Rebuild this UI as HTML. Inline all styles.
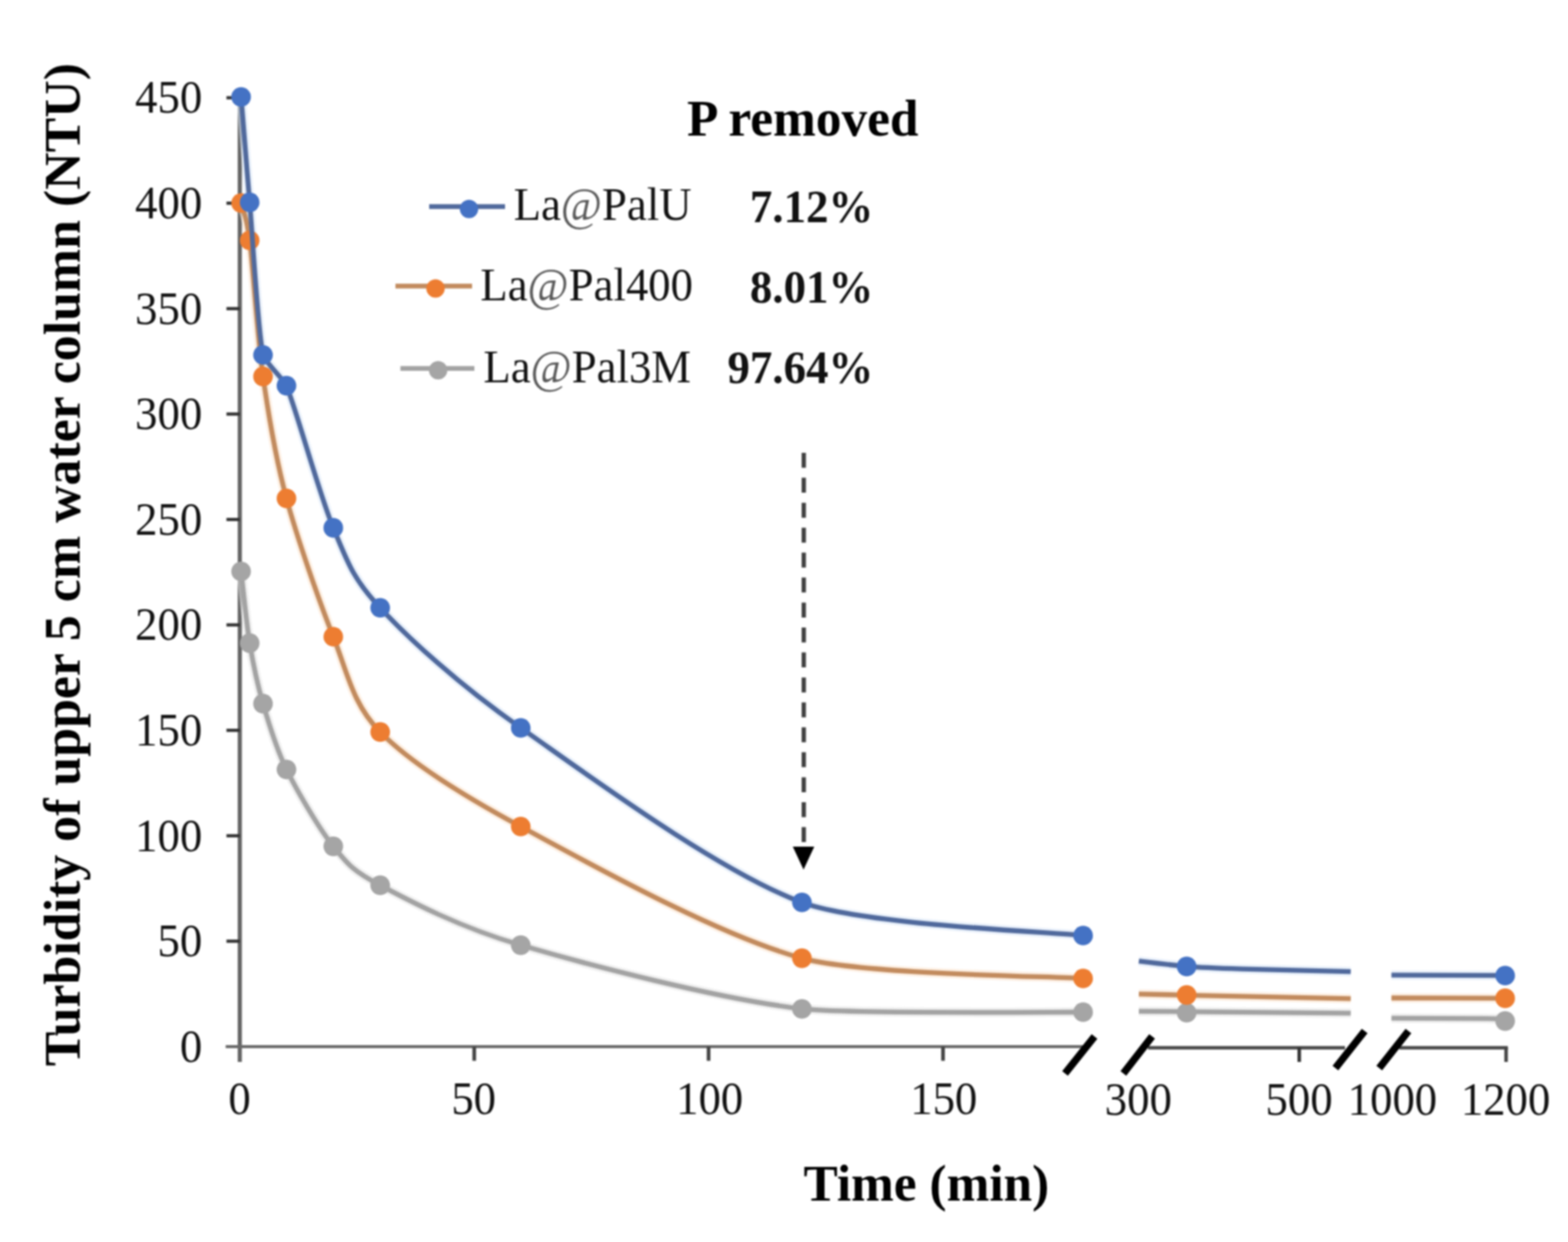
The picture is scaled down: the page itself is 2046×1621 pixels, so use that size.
<!DOCTYPE html>
<html><head><meta charset="utf-8"><title>Turbidity chart</title>
<style>html,body{margin:0;padding:0;background:#fff;overflow:hidden;} svg{display:block;}</style>
</head><body>
<svg width="2046" height="1621" viewBox="0 0 2046 1621" style="filter:blur(0.8px)">
<rect width="2046" height="1621" fill="#fff"/>
<g fill="none">
<line x1="312.9" y1="125" x2="312.9" y2="1386" stroke="#636363" stroke-width="5.4"/>
<line x1="295.5" y1="1228.4" x2="313" y2="1228.4" stroke="#333" stroke-width="4.2"/>
<line x1="295.5" y1="1090.8" x2="313" y2="1090.8" stroke="#333" stroke-width="4.2"/>
<line x1="295.5" y1="953.2" x2="313" y2="953.2" stroke="#333" stroke-width="4.2"/>
<line x1="295.5" y1="815.6" x2="313" y2="815.6" stroke="#333" stroke-width="4.2"/>
<line x1="295.5" y1="678.0" x2="313" y2="678.0" stroke="#333" stroke-width="4.2"/>
<line x1="295.5" y1="540.4" x2="313" y2="540.4" stroke="#333" stroke-width="4.2"/>
<line x1="295.5" y1="402.8" x2="313" y2="402.8" stroke="#333" stroke-width="4.2"/>
<line x1="295.5" y1="265.2" x2="313" y2="265.2" stroke="#333" stroke-width="4.2"/>
<line x1="295.5" y1="127.6" x2="313" y2="127.6" stroke="#333" stroke-width="4.2"/>
<line x1="294.5" y1="1366" x2="1420" y2="1366" stroke="#6a6a6a" stroke-width="3.8"/>
<line x1="618.8" y1="1366" x2="618.8" y2="1384.5" stroke="#444" stroke-width="4.8"/>
<line x1="924.6" y1="1366" x2="924.6" y2="1384.5" stroke="#444" stroke-width="4.8"/>
<line x1="1230.5" y1="1366" x2="1230.5" y2="1384.5" stroke="#444" stroke-width="4.8"/>
<line x1="1498" y1="1367.4" x2="1755" y2="1367.4" stroke="#474747" stroke-width="4.5"/>
<line x1="1695.3" y1="1367" x2="1695.3" y2="1386" stroke="#333" stroke-width="4.6"/>
<line x1="1826" y1="1367.4" x2="1967.5" y2="1367.4" stroke="#474747" stroke-width="4.5"/>
<line x1="1965.2" y1="1367" x2="1965.2" y2="1386" stroke="#444" stroke-width="4.6"/>
</g>
<g stroke="#000" stroke-width="9.5" stroke-linecap="butt">
<line x1="1389.7" y1="1401" x2="1428.2" y2="1352.7"/>
<line x1="1465.8" y1="1401" x2="1503.3" y2="1352.7"/>
<line x1="1742.5" y1="1394" x2="1780.7" y2="1345.6"/>
<line x1="1799.7" y1="1394" x2="1837.8" y2="1345.6"/>
</g>
<g fill="none" stroke="#e4e4e4" stroke-width="12.3" opacity="0.6"><path d="M314.6,745.7 C316.3,759.8 321.5,813.5 325.8,839.4 C330.1,865.3 336.0,893.7 343.2,918.4 C350.4,943.1 360.0,976.3 373.8,1004.2 C387.5,1032.1 416.6,1081.9 434.9,1104.6 C453.2,1127.3 459.4,1136.1 496.1,1155.4 C532.7,1174.8 597.0,1209.4 679.5,1233.6 C762.1,1257.8 936.4,1303.6 1046.4,1316.7 C1105.1,1323.7 1384.0,1320.7 1413.3,1321.0"/><path d="M1486.0,1319.9 C1491.0,1319.9 1526.3,1320.1 1548.4,1320.3 C1570.5,1320.5 1745.4,1322.2 1762.5,1322.4"/><path d="M1815.6,1328.9 C1825.6,1328.9 1928.1,1329.3 1940.0,1329.4 C1951.9,1329.5 1962.1,1330.4 1964.0,1330.5"/></g>
<g fill="none" stroke="#fbe4cf" stroke-width="12.3" opacity="0.6"><path d="M314.6,265.0 C316.3,272.3 321.5,279.8 325.8,313.8 C330.1,347.8 336.0,440.9 343.2,491.4 C350.4,541.9 360.0,599.6 373.8,650.5 C387.5,701.4 416.6,785.3 434.9,831.0 C453.2,876.7 459.4,918.2 496.1,955.4 C532.7,992.6 597.0,1034.5 679.5,1078.8 C762.1,1123.1 936.4,1220.9 1046.4,1250.6 C1127.1,1272.4 1373.0,1274.1 1413.3,1277.0"/><path d="M1486.0,1297.3 C1491.0,1297.4 1526.3,1298.3 1548.4,1298.8 C1570.5,1299.3 1745.4,1302.9 1762.5,1303.3"/><path d="M1815.6,1302.5 C1827.5,1302.5 1952.1,1302.9 1964.0,1302.9"/></g>
<g fill="none" stroke="#d9e6f7" stroke-width="12.3" opacity="0.6"><path d="M314.6,126.5 C316.3,147.1 321.5,213.6 325.8,264.1 C330.1,314.6 336.0,427.4 343.2,463.3 C344.6,470.5 371.0,496.6 373.8,503.4 C387.5,537.2 416.6,645.4 434.9,688.9 C453.2,732.4 459.4,754.1 496.1,793.3 C532.7,832.5 597.0,892.3 679.5,950.0 C762.1,1007.7 936.4,1137.1 1046.4,1177.8 C1127.1,1207.6 1373.0,1216.2 1413.3,1221.0"/><path d="M1486.0,1254.4 C1491.0,1255.0 1537.7,1260.5 1548.4,1261.3 C1559.1,1262.1 1602.9,1264.0 1620.0,1264.6 C1637.1,1265.2 1751.1,1267.9 1762.5,1268.2"/><path d="M1815.6,1272.6 C1827.5,1272.6 1952.1,1273.2 1964.0,1273.2"/></g>
<path d="M314.6,745.7 C316.3,759.8 321.5,813.5 325.8,839.4 C330.1,865.3 336.0,893.7 343.2,918.4 C350.4,943.1 360.0,976.3 373.8,1004.2 C387.5,1032.1 416.6,1081.9 434.9,1104.6 C453.2,1127.3 459.4,1136.1 496.1,1155.4 C532.7,1174.8 597.0,1209.4 679.5,1233.6 C762.1,1257.8 936.4,1303.6 1046.4,1316.7 C1105.1,1323.7 1384.0,1320.7 1413.3,1321.0" fill="none" stroke="#a3a3a3" stroke-width="6.3" stroke-linejoin="round"/>
<path d="M1486.0,1319.9 C1491.0,1319.9 1526.3,1320.1 1548.4,1320.3 C1570.5,1320.5 1745.4,1322.2 1762.5,1322.4" fill="none" stroke="#a3a3a3" stroke-width="6.3"/>
<path d="M1815.6,1328.9 C1825.6,1328.9 1928.1,1329.3 1940.0,1329.4 C1951.9,1329.5 1962.1,1330.4 1964.0,1330.5" fill="none" stroke="#a3a3a3" stroke-width="6.3"/>
<circle cx="314.6" cy="745.7" r="12.8" fill="#a5a5a5"/>
<circle cx="325.8" cy="839.4" r="12.8" fill="#a5a5a5"/>
<circle cx="343.2" cy="918.4" r="12.8" fill="#a5a5a5"/>
<circle cx="373.8" cy="1004.2" r="12.8" fill="#a5a5a5"/>
<circle cx="434.9" cy="1104.6" r="12.8" fill="#a5a5a5"/>
<circle cx="496.1" cy="1155.4" r="12.8" fill="#a5a5a5"/>
<circle cx="679.5" cy="1233.6" r="12.8" fill="#a5a5a5"/>
<circle cx="1046.4" cy="1316.7" r="12.8" fill="#a5a5a5"/>
<circle cx="1413.3" cy="1321.0" r="12.8" fill="#a5a5a5"/>
<circle cx="1548.4" cy="1321.8" r="12.8" fill="#a5a5a5"/>
<circle cx="1964.0" cy="1332.6" r="12.8" fill="#a5a5a5"/>
<path d="M314.6,265.0 C316.3,272.3 321.5,279.8 325.8,313.8 C330.1,347.8 336.0,440.9 343.2,491.4 C350.4,541.9 360.0,599.6 373.8,650.5 C387.5,701.4 416.6,785.3 434.9,831.0 C453.2,876.7 459.4,918.2 496.1,955.4 C532.7,992.6 597.0,1034.5 679.5,1078.8 C762.1,1123.1 936.4,1220.9 1046.4,1250.6 C1127.1,1272.4 1373.0,1274.1 1413.3,1277.0" fill="none" stroke="#c28b5e" stroke-width="6.3" stroke-linejoin="round"/>
<path d="M1486.0,1297.3 C1491.0,1297.4 1526.3,1298.3 1548.4,1298.8 C1570.5,1299.3 1745.4,1302.9 1762.5,1303.3" fill="none" stroke="#c28b5e" stroke-width="6.3"/>
<path d="M1815.6,1302.5 C1827.5,1302.5 1952.1,1302.9 1964.0,1302.9" fill="none" stroke="#c28b5e" stroke-width="6.3"/>
<circle cx="314.6" cy="265.0" r="12.8" fill="#ed7d31"/>
<circle cx="325.8" cy="313.8" r="12.8" fill="#ed7d31"/>
<circle cx="343.2" cy="491.4" r="12.8" fill="#ed7d31"/>
<circle cx="373.8" cy="650.5" r="12.8" fill="#ed7d31"/>
<circle cx="434.9" cy="831.0" r="12.8" fill="#ed7d31"/>
<circle cx="496.1" cy="955.4" r="12.8" fill="#ed7d31"/>
<circle cx="679.5" cy="1078.8" r="12.8" fill="#ed7d31"/>
<circle cx="1046.4" cy="1250.6" r="12.8" fill="#ed7d31"/>
<circle cx="1413.3" cy="1277.0" r="12.8" fill="#ed7d31"/>
<circle cx="1548.4" cy="1298.6" r="12.8" fill="#ed7d31"/>
<circle cx="1964.0" cy="1302.9" r="12.8" fill="#ed7d31"/>
<path d="M314.6,126.5 C316.3,147.1 321.5,213.6 325.8,264.1 C330.1,314.6 336.0,427.4 343.2,463.3 C344.6,470.5 371.0,496.6 373.8,503.4 C387.5,537.2 416.6,645.4 434.9,688.9 C453.2,732.4 459.4,754.1 496.1,793.3 C532.7,832.5 597.0,892.3 679.5,950.0 C762.1,1007.7 936.4,1137.1 1046.4,1177.8 C1127.1,1207.6 1373.0,1216.2 1413.3,1221.0" fill="none" stroke="#50699c" stroke-width="6.3" stroke-linejoin="round"/>
<path d="M1486.0,1254.4 C1491.0,1255.0 1537.7,1260.5 1548.4,1261.3 C1559.1,1262.1 1602.9,1264.0 1620.0,1264.6 C1637.1,1265.2 1751.1,1267.9 1762.5,1268.2" fill="none" stroke="#50699c" stroke-width="6.3"/>
<path d="M1815.6,1272.6 C1827.5,1272.6 1952.1,1273.2 1964.0,1273.2" fill="none" stroke="#50699c" stroke-width="6.3"/>
<circle cx="314.6" cy="126.5" r="12.8" fill="#4472c4"/>
<circle cx="325.8" cy="264.1" r="12.8" fill="#4472c4"/>
<circle cx="343.2" cy="463.3" r="12.8" fill="#4472c4"/>
<circle cx="373.8" cy="503.4" r="12.8" fill="#4472c4"/>
<circle cx="434.9" cy="688.9" r="12.8" fill="#4472c4"/>
<circle cx="496.1" cy="793.3" r="12.8" fill="#4472c4"/>
<circle cx="679.5" cy="950.0" r="12.8" fill="#4472c4"/>
<circle cx="1046.4" cy="1177.8" r="12.8" fill="#4472c4"/>
<circle cx="1413.3" cy="1221.0" r="12.8" fill="#4472c4"/>
<circle cx="1548.4" cy="1261.4" r="12.8" fill="#4472c4"/>
<circle cx="1964.0" cy="1273.2" r="12.8" fill="#4472c4"/>
<line x1="1048.8" y1="591" x2="1048.8" y2="1099" stroke="#404040" stroke-width="5.6" stroke-dasharray="19.5 13.07"/>
<path d="M1034.5,1105 L1062.5,1105 L1048.5,1135 Z" fill="#000"/>
<g font-family="&quot;Liberation Serif&quot;, &quot;Times New Roman&quot;, serif">
<text transform="translate(234.64,1385.70) scale(0.9650,1)" font-size="60.5" fill="#111">0</text>
<text transform="translate(205.45,1248.10) scale(0.9650,1)" font-size="60.5" fill="#111">50</text>
<text transform="translate(176.26,1110.50) scale(0.9650,1)" font-size="60.5" fill="#111">100</text>
<text transform="translate(176.26,972.90) scale(0.9650,1)" font-size="60.5" fill="#111">150</text>
<text transform="translate(176.26,835.30) scale(0.9650,1)" font-size="60.5" fill="#111">200</text>
<text transform="translate(176.26,697.70) scale(0.9650,1)" font-size="60.5" fill="#111">250</text>
<text transform="translate(176.26,560.10) scale(0.9650,1)" font-size="60.5" fill="#111">300</text>
<text transform="translate(176.26,422.50) scale(0.9650,1)" font-size="60.5" fill="#111">350</text>
<text transform="translate(176.26,284.90) scale(0.9650,1)" font-size="60.5" fill="#111">400</text>
<text transform="translate(176.26,147.30) scale(0.9650,1)" font-size="60.5" fill="#111">450</text>
<text transform="translate(298.00,1453.50) scale(0.9650,1)" font-size="60.5" fill="#111">0</text>
<text transform="translate(588.92,1453.50) scale(0.9650,1)" font-size="60.5" fill="#111">50</text>
<text transform="translate(882.25,1453.50) scale(0.9650,1)" font-size="60.5" fill="#111">100</text>
<text transform="translate(1187.75,1453.50) scale(0.9650,1)" font-size="60.5" fill="#111">150</text>
<text transform="translate(1441.62,1455.00) scale(0.9650,1)" font-size="60.5" fill="#111">300</text>
<text transform="translate(1651.33,1455.00) scale(0.9650,1)" font-size="60.5" fill="#111">500</text>
<text transform="translate(1758.56,1455.00) scale(0.9650,1)" font-size="60.5" fill="#111">1000</text>
<text transform="translate(1906.16,1455.00) scale(0.9650,1)" font-size="60.5" fill="#111">1200</text>
<text transform="translate(670.25,286.80) scale(0.9650,1)" font-size="60.5" fill="#111">La<tspan fill="#5a5a5a">@</tspan>PalU</text>
<text transform="translate(626.75,391.70) scale(0.9650,1)" font-size="60.5" fill="#111">La<tspan fill="#5a5a5a">@</tspan>Pal400</text>
<text transform="translate(630.75,499.20) scale(0.9650,1)" font-size="60.5" fill="#111">La<tspan fill="#5a5a5a">@</tspan>Pal3M</text>
<text transform="translate(978.52,289.80) scale(0.9600,1)" font-size="61" font-weight="bold" fill="#111">7.12%</text>
<text transform="translate(978.52,394.50) scale(0.9600,1)" font-size="61" font-weight="bold" fill="#111">8.01%</text>
<text transform="translate(949.24,499.50) scale(0.9600,1)" font-size="61" font-weight="bold" fill="#111">97.64%</text>
<text transform="translate(896.50,177.00) scale(0.9850,1)" font-size="68" font-weight="bold" fill="#000">P removed</text>
<text transform="translate(1048.50,1567.40) scale(0.9850,1)" font-size="68" font-weight="bold" fill="#000">Time (min)</text>
</g>
<text transform="translate(104.3,1391.52) rotate(-90)" font-family="&quot;Liberation Serif&quot;, &quot;Times New Roman&quot;, serif" font-weight="bold" font-size="67.7" fill="#000">Turbidity of upper 5 cm water column (NTU)</text>
<g stroke-width="6.3">
<line x1="560" y1="269.6" x2="659" y2="269.6" stroke="#50699c"/><circle cx="612" cy="272.8" r="12" fill="#4472c4"/>
<line x1="516" y1="373.3" x2="616" y2="373.3" stroke="#c28b5e"/><circle cx="568.3" cy="376.6" r="12" fill="#ed7d31"/>
<line x1="522.5" y1="480.8" x2="619" y2="480.8" stroke="#a3a3a3"/><circle cx="571.7" cy="483.3" r="12" fill="#a5a5a5"/>
</g>
</svg>
</body></html>
